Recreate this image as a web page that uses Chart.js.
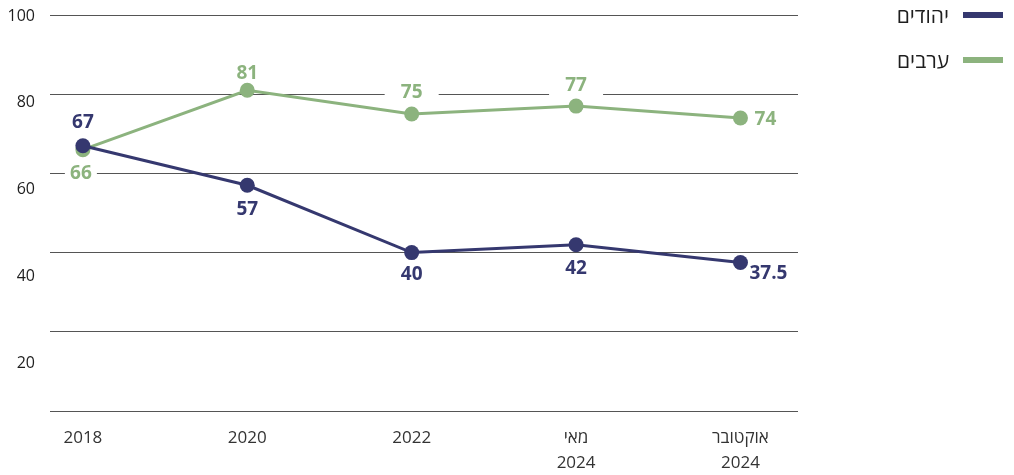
<!DOCTYPE html>
<html lang="he">
<head>
<meta charset="utf-8">
<script src="https://cdn.jsdelivr.net/npm/chart.js@4.4.1/dist/chart.umd.min.js"></script>
<style>
  body { margin: 0; background: #fff; font-family: 'Open Sans', 'DejaVu Sans', sans-serif; }
  #wrap { position: relative; width: 1014px; height: 475px; }
  .leg { position: absolute; right: 11px; display: flex; align-items: center; gap: 14px; font-size: 21px; color: #1e1e1e; direction: rtl; }
  .leg span.sw { display: inline-block; width: 40px; height: 6px; }
</style>
</head>
<body>
<div id="wrap">
  <canvas id="chart" width="1014" height="475"></canvas>
  <div class="leg" style="top:1px"><span class="sw" style="background:#35386f"></span><span id="l0"></span></div>
  <div class="leg" style="top:46px"><span class="sw" style="background:#8cb37e"></span><span id="l1"></span></div>
</div>
<script>
// Data
const categories = ['2018', '2020', '2022', ['מאי', '2024'], ['אוקטובר', '2024']];
const jews = [67, 57, 40, 42, 37.5];
const arabs = [66, 81, 75, 77, 74];
const yTickLabels = [20, 40, 60, 80, 100];
const seriesNames = ['יהודים', 'ערבים'];

const navy = '#35386f';
const green = '#8cb37e';

document.getElementById('l0').textContent = seriesNames[0];
document.getElementById('l1').textContent = seriesNames[1];

// label placement per point: [dx, dy, background width]
const labelPos = [
    [[0, -23, 0], [0, 24, 0], [0, 22, 0], [0, 24, 0], [28, 11, 0]],
    [[-2, 24, 32], [0, -17, 0], [0, -21, 54], [0, -20, 54], [25, 2, 0]]
];

const toPoints = arr => arr.map((v, i) => ({ x: i, y: v }));

const valueLabels = {
    id: 'valueLabels',
    beforeDatasetsDraw(chart) {
        const c = chart.ctx;
        chart.data.datasets.forEach((ds, di) => {
            chart.getDatasetMeta(di).data.forEach((pt, i) => {
                const [dx, dy, w] = labelPos[di][i];
                if (!w) return;
                c.save();
                c.fillStyle = '#fff';
                c.fillRect(pt.x + dx - w / 2, pt.y + dy - 11, w, 22);
                c.restore();
            });
        });
    },
    afterDatasetsDraw(chart) {
        const c = chart.ctx;
        c.save();
        c.font = "bold 19px 'Open Sans', 'DejaVu Sans', sans-serif";
        c.textAlign = 'center';
        c.textBaseline = 'middle';
        chart.data.datasets.forEach((ds, di) => {
            c.fillStyle = ds.borderColor;
            chart.getDatasetMeta(di).data.forEach((pt, i) => {
                const [dx, dy] = labelPos[di][i];
                c.fillText(String(ds.data[i].y), pt.x + dx, pt.y + dy);
            });
        });
        c.restore();
    }
};

const ctx = document.getElementById('chart').getContext('2d');

const chart = new Chart(ctx, {
    type: 'line',
    data: {
        datasets: [{
            label: seriesNames[0],
            data: toPoints(jews),
            borderColor: navy,
            backgroundColor: navy,
            borderWidth: 3,
            pointRadius: 7.5,
            pointHoverRadius: 7.5,
            pointBorderWidth: 0,
            fill: false
        }, {
            label: seriesNames[1],
            data: toPoints(arabs),
            borderColor: green,
            backgroundColor: green,
            borderWidth: 3,
            pointRadius: 7.5,
            pointHoverRadius: 7.5,
            pointBorderWidth: 0,
            fill: false
        }]
    },
    options: {
        responsive: false,
        animation: false,
        layout: { padding: { top: 15, right: 216, left: 0, bottom: 0 } },
        plugins: {
            legend: { display: false },
            tooltip: { enabled: false }
        },
        scales: {
            x: {
                type: 'linear',
                min: -0.2,
                max: 4.35,
                afterBuildTicks: s => { s.ticks = categories.map((_, i) => ({ value: i })); },
                afterFit: s => { s.height = 64; s.paddingLeft = 0; s.paddingRight = 0; },
                grid: { display: false, drawTicks: false },
                border: { display: false },
                ticks: {
                    autoSkip: false,
                    maxRotation: 0,
                    padding: 14,
                    color: '#333',
                    font: { family: "'Open Sans', 'DejaVu Sans', sans-serif", size: 17, lineHeight: 1.5 },
                    callback: v => categories[v]
                }
            },
            y: {
                position: 'left',
                min: 0,
                max: 100,
                afterBuildTicks: s => { s.ticks = [0, 20, 40, 60, 80, 100].map(v => ({ value: v })); },
                afterFit: s => { s.width = 0; s.paddingTop = 0; s.paddingBottom = 0; },
                grid: { color: '#555', lineWidth: 1, drawTicks: false },
                border: { display: false },
                ticks: { display: false }
            },
            yl: {
                position: 'left',
                min: 9,
                max: 100.23,
                afterBuildTicks: s => { s.ticks = yTickLabels.map(v => ({ value: v })); },
                afterFit: s => { s.width = 50; s.paddingTop = 0; s.paddingBottom = 0; },
                grid: { display: false, drawTicks: false },
                border: { display: false },
                ticks: {
                    padding: 15,
                    color: '#1e1e1e',
                    font: { family: "'Open Sans', 'DejaVu Sans', sans-serif", size: 16, weight: '500' }
                }
            }
        }
    },
    plugins: [valueLabels]
});
</script>
</body>
</html>
